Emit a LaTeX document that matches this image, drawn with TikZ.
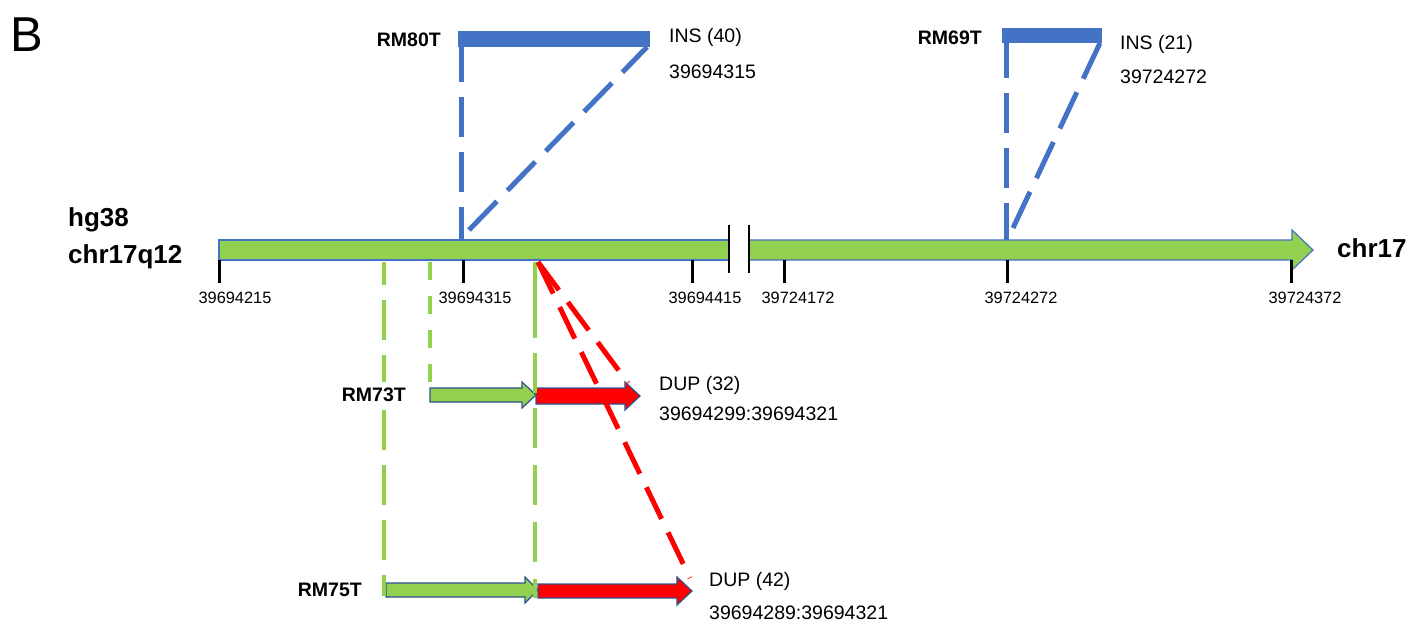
\documentclass[tikz,border=0pt]{standalone}
\usepackage{fontspec}
\setmainfont{Liberation Sans}
\definecolor{bargreen}{RGB}{146,208,80}
\definecolor{insblue}{RGB}{68,114,196}
\definecolor{edgeblue}{RGB}{47,82,143}
\definecolor{dupred}{RGB}{255,0,0}
\tikzset{
 txt/.style={inner sep=0pt, font=\fontsize{19.5}{23}\selectfont},
 btxt/.style={inner sep=0pt, font=\bfseries\fontsize{19.5}{23}\selectfont},
 big/.style={inner sep=0pt, font=\bfseries\fontsize{26}{30}\selectfont},
 ticklbl/.style={inner sep=0pt, font=\fontsize{16.4}{19}\selectfont, anchor=base},
 tickline/.style={line width=3pt, black},
 chrom/.style={draw=insblue, line width=1.2pt, fill=bargreen},
 blockarrow/.style={draw=edgeblue, line width=1.2pt, line join=miter},
 insbar/.style={fill=insblue},
 insdash/.style={draw=insblue, line width=5pt, dash pattern=on 40pt off 15pt},
 gdash/.style={draw=bargreen, line width=4pt, dash pattern=on 40pt off 15pt},
 gdashshort/.style={draw=bargreen, line width=4pt, dash pattern=on 18pt off 16pt},
 rdash/.style={draw=dupred, line width=5pt, dash pattern=on 35pt off 15pt},
}
% fill, x1, x2, yc, shaft half, head half, head length
\newcommand{\myblockarrow}[7]{%
 \draw[blockarrow, fill=#1] (#2,#4-#5) -- (#3-#7,#4-#5) -- (#3-#7,#4-#6) -- (#3,#4)
   -- (#3-#7,#4+#6) -- (#3-#7,#4+#5) -- (#2,#4+#5) -- cycle;}
\begin{document}
\begin{tikzpicture}[x=1pt,y=-1pt]
\useasboundingbox (0,0) rectangle (1421,626);

% panel letter and chromosome labels
\node[inner sep=0pt, anchor=base west, font=\fontsize{49}{55}\selectfont] (panel) at (10,52) {B};
\node[big, anchor=base west] (hg) at (68,226) {hg38};
\node[big, anchor=base west] (chrq) at (68,263) {chr17q12};
\node[big, anchor=base west] (chr) at (1337,257) {chr17};

% chromosome bar with break
\draw[chrom] (219,240) rectangle (729,260);
\draw[chrom] (749,240) -- (1292,240) -- (1292,230) -- (1313,250) -- (1292,270) -- (1292,260) -- (749,260) -- cycle;
\coordinate (brkAt) at (729,225); \coordinate (brkAb) at (729,273);
\coordinate (brkBt) at (749,225); \coordinate (brkBb) at (749,273);
\draw[tickline, line width=2.5pt] (brkAt) -- (brkAb);
\draw[tickline, line width=2.5pt] (brkBt) -- (brkBb);

% ticks and labels
\foreach \tx/\lx/\lab [count=\i] in {219/235/39694215, 463/475/39694315, 692/705/39694415, 784/798/39724172, 1007/1021/39724272, 1291/1305/39724372}{
  \coordinate (tickT\i) at (\tx,260);
  \coordinate (tickB\i) at (\tx,283);
  \draw[tickline] (tickT\i) -- (tickB\i);
  \node[ticklbl] (ticklab\i) at (\lx,303) {\lab};
}

% RM80T insertion
\fill[insbar] (458,31) rectangle (650,47);
\coordinate (i80a) at (461,240); \coordinate (i80b) at (461,40);
\coordinate (i80c) at (469,230); \coordinate (i80d) at (647,47);
\draw[insdash, dash phase=7pt] (i80a) -- (i80b);
\draw[insdash] (i80c) -- (i80d);
\node[btxt, anchor=base east] (rm80) at (441,47) {RM80T};
\node[txt, anchor=base west] (ins40) at (669,43) {INS (40)};
\node[txt, anchor=base west] (pos40) at (669,78) {39694315};

% RM69T insertion
\fill[insbar] (1002,28) rectangle (1102,43);
\coordinate (i69a) at (1006,240); \coordinate (i69b) at (1006,38);
\coordinate (i69c) at (1013,228); \coordinate (i69d) at (1100,43);
\draw[insdash, dash phase=3pt] (i69a) -- (i69b);
\draw[insdash] (i69c) -- (i69d);
\node[btxt, anchor=base east] (rm69) at (982,45) {RM69T};
\node[txt, anchor=base west] (ins21) at (1120,50) {INS (21)};
\node[txt, anchor=base west] (pos21) at (1120,83) {39724272};

% duplication arrows
\myblockarrow{bargreen}{430}{536}{395}{7}{13}{14}
\myblockarrow{dupred}{536}{640}{396}{8}{14}{15}
\myblockarrow{bargreen}{386}{538}{590}{7}{13}{13}
\myblockarrow{dupred}{538}{692}{591}{7}{14}{15}

% green dashed guides
\coordinate (g1a) at (384,262); \coordinate (g1b) at (384,596);
\coordinate (g2a) at (430,262); \coordinate (g2b) at (430,386);
\coordinate (g3a) at (535,262); \coordinate (g3b) at (535,598);
\draw[gdash, dash phase=17pt] (g1a) -- (g1b);
\draw[gdashshort] (g2a) -- (g2b);
\draw[gdash, dash pattern=on 76pt off 15pt on 40pt off 15pt on 40pt off 17pt on 40pt off 17pt on 40pt off 17pt] (g3a) -- (g3b);

% red dashed guides
\coordinate (r0) at (538,262);
\coordinate (r1) at (628,383);
\coordinate (r2) at (690,578);
\draw[rdash] (r0) -- (r1);
\draw[rdash] (r0) -- (r2);

% duplication labels
\node[btxt, anchor=base east, fill=white, inner ysep=5pt] (rm73) at (406,401) {RM73T};
\node[txt, anchor=base west] (dup32) at (659,390) {DUP (32)};
\node[txt, anchor=base west] (pos32) at (659,420) {39694299:39694321};
\node[btxt, anchor=base east] (rm75) at (362,596) {RM75T};
\node[txt, anchor=base west] (dup42) at (709,586) {DUP (42)};
\node[txt, anchor=base west] (pos42) at (709,619) {39694289:39694321};
\end{tikzpicture}
\end{document}
